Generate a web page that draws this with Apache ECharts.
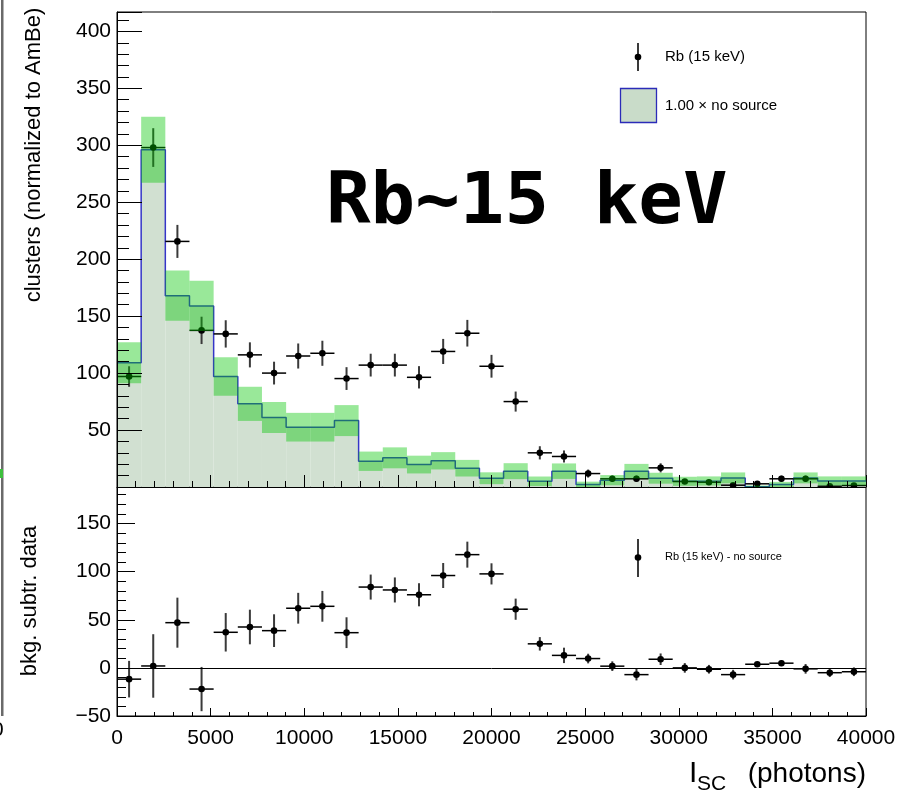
<!DOCTYPE html>
<html><head><meta charset="utf-8">
<script src="https://cdn.jsdelivr.net/npm/echarts@6/dist/echarts.min.js"></script>
<style>html,body{margin:0;padding:0;background:#fff}#c{width:900px;height:800px}</style>
</head><body><div id="c"></div>
<script>
// ---- data (31 bins from 0 to 40000 photons) ----
const xMin = 0, xMax = 40000, nBins = 31;
const bgValues  = [109, 296, 168, 159, 97, 73, 61, 52.5, 52.5, 58.3, 22.6, 25.6, 19.7, 23, 16.5, 7.7, 13.9, 5, 13.9, 2.2, 6, 13.9, 7.7, 5, 5.3, 8, 0.3, 2.2, 8, 5.3, 5.3];
const bgErrors  = [18, 29, 22, 22, 17, 15, 13.6, 12.6, 12.6, 13.6, 8.5, 9.2, 7.8, 7.6, 7.3, 5.2, 7, 4.2, 6.8, 2.5, 4.5, 6.4, 4.8, 4, 4, 4.8, 1, 2.3, 4.8, 4, 4];
const dataValues = [97, 298, 215.6, 137.5, 134.4, 116, 100, 115, 117.4, 95.2, 107, 107, 96.3, 119, 135, 106, 75, 30, 26.8, 11.8, 7.2, 7.2, 16.8, 4.8, 4.2, 1.6, 2.8, 7.2, 7.2, 0.7, 1.3];
const dataErrors = [9, 17, 14.5, 12, 12, 11, 10, 11, 11, 10, 10, 10, 9.8, 11, 11.7, 10, 8.8, 5.8, 5.3, 3.5, 2.8, 2.8, 4, 2.2, 2, 1.3, 1.7, 2.8, 2.8, 0.8, 1.2];
const subValues = [-11.7, 2, 47, -22, 37, 42.5, 38.7, 62, 64, 36.6, 84, 81, 76, 96, 117.7, 97.7, 61, 25, 13, 9.7, 1.8, -7, 9, 0, -1.4, -7, 3.8, 4.9, -1, -5, -4];
const subErrors = [19, 33, 26, 23, 20, 18, 17, 16, 16, 16, 13, 13, 12, 13, 13.5, 11, 11, 7, 8, 5, 5, 6, 6, 5, 4.5, 5, 2, 3, 5, 4.5, 4.5];
const xTickStep = 5000;
const topYMin = 0, topYMax = 417, topYStep = 50;
const botYMin = -50, botYMax = 188, botYStep = 50;

const binW = (xMax - xMin) / nBins;
const lo = i => xMin + i * binW;
const hi = i => xMin + (i + 1) * binW;

const FONT = "'Liberation Sans', Arial, Helvetica, sans-serif";

const bgFillData = bgValues.map((v, i) => [lo(i), hi(i), v]);
const bandData = bgValues.map((v, i) => [lo(i), hi(i), v, bgErrors[i]]);
const stepData = bgValues.map((v, i) => [lo(i), v]);
stepData.push([xMax, bgValues[nBins - 1]]);
const ptsData = dataValues.map((v, i) => [lo(i), hi(i), v, dataErrors[i]]);
const subData = subValues.map((v, i) => [lo(i), hi(i), v, subErrors[i]]);

function clampY(y, axisMin, axisMax) { return Math.min(Math.max(y, axisMin), axisMax); }

function rectItem(yMinAxis, yMaxAxis, fill, withErr) {
  return function (params, api) {
    const x0 = api.value(0), x1 = api.value(1), v = api.value(2);
    const e = withErr ? api.value(3) : null;
    const yTop = clampY(e === null ? v : v + e, yMinAxis, yMaxAxis);
    const yBot = clampY(e === null ? 0 : v - e, yMinAxis, yMaxAxis);
    const p0 = api.coord([x0, yTop]), p1 = api.coord([x1, yBot]);
    return { type: 'rect', shape: { x: p0[0], y: p0[1], width: p1[0] - p0[0], height: p1[1] - p0[1] },
      style: { fill: fill } };
  };
}

function errItem(yMinAxis, yMaxAxis) {
  return function (params, api) {
    const x0 = api.value(0), x1 = api.value(1), y = api.value(2), e = api.value(3);
    const c = (x0 + x1) / 2;
    const pL = api.coord([x0, y]), pR = api.coord([x1, y]);
    const pT = api.coord([c, clampY(y + e, yMinAxis, yMaxAxis)]);
    const pB = api.coord([c, clampY(y - e, yMinAxis, yMaxAxis)]);
    const pC = api.coord([c, y]);
    return { type: 'group', children: [
      { type: 'line', shape: { x1: pL[0], y1: pL[1], x2: pR[0], y2: pR[1] }, style: { stroke: '#000', lineWidth: 1.5 } },
      { type: 'line', shape: { x1: pT[0], y1: pT[1], x2: pB[0], y2: pB[1] }, style: { stroke: '#3a3a3a', lineWidth: 2 } },
      { type: 'circle', shape: { cx: pC[0], cy: pC[1], r: 3.3 }, style: { fill: '#000' } }
    ] };
  };
}

const labelStyle = { color: '#000', fontSize: 21, fontFamily: FONT };
const minus = v => String(v).replace('-', '\u2212');

function mkX(gridIndex, showLabel, majLen, minLen) {
  return { type: 'value', gridIndex: gridIndex, min: xMin, max: xMax, interval: xTickStep, z: 10,
    axisLine: { show: true, onZero: false, lineStyle: { color: '#000', width: 1 } },
    axisTick: { show: true, inside: true, length: majLen, lineStyle: { color: '#000', width: 1 } },
    minorTick: { show: true, splitNumber: 5, length: minLen, lineStyle: { color: '#000', width: 1 } },
    axisLabel: Object.assign({ show: showLabel, margin: 12, formatter: v => String(v) }, labelStyle),
    splitLine: { show: false }, minorSplitLine: { show: false } };
}
function mkY(gridIndex, mn, mx, step, majLen, minLen, fmt) {
  return { type: 'value', gridIndex: gridIndex, min: mn, max: mx, interval: step, z: 10,
    axisLine: { show: true, onZero: false, lineStyle: { color: '#000', width: 1 } },
    axisTick: { show: true, inside: true, length: majLen, lineStyle: { color: '#000', width: 1 } },
    minorTick: { show: true, splitNumber: 5, length: minLen, lineStyle: { color: '#000', width: 1 } },
    axisLabel: Object.assign({ margin: 6, showMaxLabel: false, formatter: fmt }, labelStyle),
    splitLine: { show: false }, minorSplitLine: { show: false } };
}

const option = {
  animation: false,
  backgroundColor: '#fff',
  grid: [
    { left: 117, top: 12, width: 749, height: 475, show: true, borderColor: '#000', borderWidth: 1, backgroundColor: 'transparent', outerBoundsMode: 'none', containLabel: false },
    { left: 117, top: 487, width: 749, height: 229, show: true, borderColor: '#000', borderWidth: 1, backgroundColor: 'transparent', outerBoundsMode: 'none', containLabel: false }
  ],
  xAxis: [ mkX(0, false, 12, 6), mkX(1, true, 8, 4) ],
  yAxis: [
    mkY(0, topYMin, topYMax, topYStep, 25, 12, v => (v > 0 && v % topYStep === 0) ? String(v) : ''),
    mkY(1, botYMin, botYMax, botYStep, 18, 9, v => (v % botYStep === 0) ? minus(v) : '')
  ],
  series: [
    { name: 'bgFill', type: 'custom', xAxisIndex: 0, yAxisIndex: 0, clip: true, z: 1, silent: true,
      encode: { x: [0, 1], y: 2 }, data: bgFillData,
      renderItem: rectItem(topYMin, topYMax, '#d1e0d1', false) },
    { name: 'bgLine', type: 'line', xAxisIndex: 0, yAxisIndex: 0, step: 'end', z: 2, silent: true,
      showSymbol: false, symbol: 'none', data: stepData,
      lineStyle: { color: '#3535c8', width: 1.5 } },
    { name: 'pts', type: 'custom', xAxisIndex: 0, yAxisIndex: 0, clip: true, z: 3, silent: true,
      encode: { x: [0, 1], y: 2 }, data: ptsData, renderItem: errItem(topYMin, topYMax) },
    { name: 'band', type: 'custom', xAxisIndex: 0, yAxisIndex: 0, clip: true, z: 4, silent: true,
      encode: { x: [0, 1], y: 2 }, data: bandData,
      renderItem: rectItem(topYMin, topYMax, 'rgba(0,197,0,0.4)', true) },
    { name: 'sub', type: 'custom', xAxisIndex: 1, yAxisIndex: 1, clip: true, z: 3, silent: true,
      encode: { x: [0, 1], y: 2 }, data: subData, renderItem: errItem(botYMin, botYMax),
      markLine: { silent: true, symbol: 'none', label: { show: false }, animation: false,
        lineStyle: { color: '#000', width: 1, type: 'solid' }, data: [{ yAxis: 0 }] } }
  ],
  graphic: [
    // remnant of neighbouring plot at left edge
    { type: 'rect', shape: { x: 1, y: 0, width: 2.5, height: 716 }, style: { fill: '#6a6a6a' } },
    { type: 'rect', shape: { x: 0, y: 469, width: 3, height: 9 }, style: { fill: '#3cbf3c' } },
    { type: 'text', x: -8, y: 730, style: { text: '0', font: '21px ' + FONT, fill: '#000', verticalAlign: 'middle' } },
    { type: 'text', x: -6, y: 770, style: { text: ')', font: '21px ' + FONT, fill: '#000', verticalAlign: 'middle' } },
    // y titles
    { type: 'text', x: 34, y: 155, rotation: Math.PI / 2,
      style: { text: 'clusters (normalized to AmBe)', font: '22px ' + FONT, fill: '#000', align: 'center', verticalAlign: 'middle' } },
    { type: 'text', x: 30, y: 601, rotation: Math.PI / 2,
      style: { text: 'bkg. subtr. data', font: '22px ' + FONT, fill: '#000', align: 'center', verticalAlign: 'middle' } },
    // x title
    { type: 'text', x: 689, y: 774, style: { text: 'I', font: '30px ' + FONT, fill: '#000', verticalAlign: 'middle' } },
    { type: 'text', x: 697, y: 784, style: { text: 'SC', font: '21px ' + FONT, fill: '#000', verticalAlign: 'middle' } },
    { type: 'text', x: 866, y: 774, style: { text: '(photons)', font: '28px ' + FONT, fill: '#000', align: 'right', verticalAlign: 'middle' } },
    // annotation
    { type: 'text', x: 326, y: 204, scaleX: 1.09, scaleY: 1.05,
      style: { text: 'Rb~15 keV', font: 'bold 68px "DejaVu Sans Mono", monospace', fill: '#000', verticalAlign: 'middle' } },
    // top legend
    { type: 'line', shape: { x1: 638, y1: 43, x2: 638, y2: 71 }, style: { stroke: '#3a3a3a', lineWidth: 2 } },
    { type: 'circle', shape: { cx: 638, cy: 57, r: 3.3 }, style: { fill: '#000' } },
    { type: 'text', x: 665, y: 57, style: { text: 'Rb (15 keV)', font: '15px ' + FONT, fill: '#000', verticalAlign: 'middle' } },
    { type: 'rect', shape: { x: 620.5, y: 88.5, width: 36, height: 34 }, style: { fill: '#c9dcc9', stroke: '#2b2bb8', lineWidth: 1.3 } },
    { type: 'text', x: 665, y: 106, style: { text: '1.00 \u00d7 no source', font: '15px ' + FONT, fill: '#000', verticalAlign: 'middle' } },
    // bottom legend
    { type: 'line', shape: { x1: 638, y1: 539, x2: 638, y2: 577 }, style: { stroke: '#3a3a3a', lineWidth: 2 } },
    { type: 'circle', shape: { cx: 638, cy: 557.5, r: 3.3 }, style: { fill: '#000' } },
    { type: 'text', x: 665, y: 557, style: { text: 'Rb (15 keV) - no source', font: '11px ' + FONT, fill: '#000', verticalAlign: 'middle' } }
  ]
};

const chart = echarts.init(document.getElementById('c'), null, { renderer: 'canvas' });
chart.setOption(option);
</script>
</body></html>
